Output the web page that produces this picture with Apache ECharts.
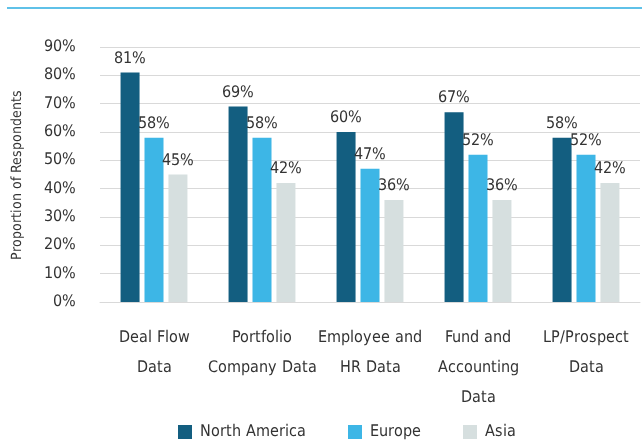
<!DOCTYPE html>
<html><head><meta charset="utf-8">
<script src="https://cdn.jsdelivr.net/npm/echarts@6/dist/echarts.min.js"></script>
<style>
@font-face{font-family:'CondF';src:local('Liberation Sans Narrow'),local('LiberationSansNarrow-Regular'),local('Liberation Sans Narrow Regular'),local('DejaVu Sans Condensed'),local('DejaVuSansCondensed');}
html,body{margin:0;padding:0;background:#fff}#c{width:642px;height:441px}</style>
</head><body><div id="c"></div>
<script>
var categories = ['Deal Flow\nData', 'Portfolio\nCompany Data', 'Employee and\nHR Data', 'Fund and\nAccounting\nData', 'LP/Prospect\nData'];
var northAmerica = [81, 69, 60, 67, 58];
var europe = [58, 58, 47, 52, 52];
var asia = [45, 42, 36, 36, 42];
var yTicks = [0, 10, 20, 30, 40, 50, 60, 70, 80, 90];

var FONT = 'CondF, "Liberation Sans Narrow", sans-serif';
var TXT = '#333333';
var FS = 16;
function draw() {
var chart = echarts.init(document.getElementById('c'), null, {renderer: 'canvas'});
function ser(name, data, color) {
  return {
    name: name, type: 'bar', data: data, barWidth: 19, barGap: '26%',
    itemStyle: {color: color},
    label: {show: true, position: 'top', distance: 6, formatter: '{c}%', fontFamily: FONT, fontSize: FS, color: TXT}
  };
}
chart.setOption({
  animation: false,
  textStyle: {fontFamily: FONT},
  graphic: [{type: 'rect', shape: {x: 7, y: 7, width: 635, height: 2}, style: {fill: '#5fc1e8'}}],
  grid: {left: 100, right: 2, top: 47, bottom: 139, outerBoundsMode: 'none', containLabel: false},
  legend: {
    top: 419, left: 173, itemWidth: 14, itemHeight: 14, itemGap: 42,
    icon: 'rect',
    textStyle: {fontFamily: FONT, fontSize: FS, color: TXT, padding: [0, 0, 0, 3]},
    data: ['North America', 'Europe', 'Asia']
  },
  xAxis: {
    type: 'category', data: categories,
    axisLine: {lineStyle: {color: '#d9d9d9'}},
    axisTick: {show: false},
    axisLabel: {interval: 0, fontFamily: FONT, fontSize: FS, color: TXT, lineHeight: 30, margin: 21}
  },
  yAxis: {
    type: 'value', min: 0, max: 90, interval: 10,
    name: 'Proportion of Respondents', nameLocation: 'middle', nameGap: 76, nameRotate: 90,
    nameTextStyle: {fontFamily: FONT, fontSize: 14, color: TXT},
    axisLabel: {formatter: function(v){ return yTicks.indexOf(v) >= 0 ? v + '%' : ''; }, fontFamily: FONT, fontSize: FS, color: TXT, margin: 24},
    splitLine: {lineStyle: {color: '#d9d9d9'}},
    axisLine: {show: false}, axisTick: {show: false}
  },
  series: [ser('North America', northAmerica, '#135e80'), ser('Europe', europe, '#3db6e6'), ser('Asia', asia, '#d6dfdf')]
});
}
if (document.fonts && document.fonts.load) {
  document.fonts.load('16px CondF').then(draw, draw);
} else { draw(); }
</script></body></html>
